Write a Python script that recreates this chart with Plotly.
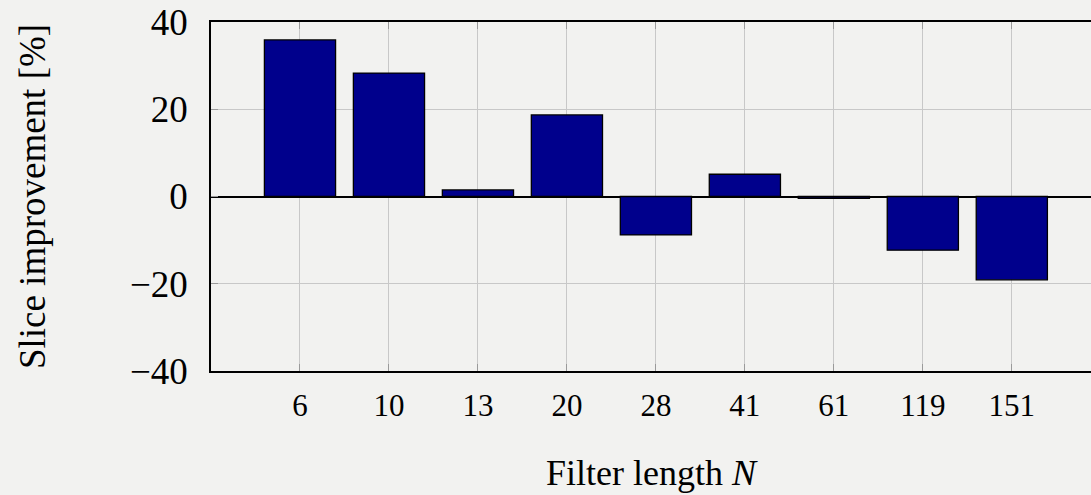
import plotly.graph_objects as go

categories = ["6", "10", "13", "20", "28", "41", "61", "119", "151"]
improvement = [35.9, 28.3, 1.5, 18.7, -8.8, 5.1, -0.4, -12.3, -19.1]
y_ticks = [-40, -20, 0, 20, 40]

bg = "#f2f2f0"
serif = "Liberation Serif, Times New Roman, serif"

fig = go.Figure(
    go.Bar(
        x=list(range(len(categories))),
        y=improvement,
        marker=dict(color="#00008c", line=dict(color="#000000", width=1.3)),
        width=0.8,
    )
)

fig.update_layout(
    width=1091,
    height=495,
    margin=dict(l=211, r=0, t=22, b=124),
    paper_bgcolor=bg,
    plot_bgcolor=bg,
    showlegend=False,
    font=dict(family=serif, color="#000000"),
)

fig.update_xaxes(
    range=[-1, 8.89],
    tickmode="array",
    tickvals=list(range(len(categories))),
    ticktext=categories,
    tickfont=dict(size=31, family=serif),
    showgrid=True,
    gridcolor="#c8c8c8",
    gridwidth=1.2,
    showline=True,
    linecolor="#000000",
    linewidth=1.6,
    mirror="ticks",
    ticks="inside",
    ticklen=7,
    tickcolor="#9a9a9a",
    tickwidth=1.2,
    ticklabelstandoff=6,
    zeroline=False,
    title=dict(text="Filter length <i>N</i>", font=dict(size=36, family=serif), standoff=38),
)

fig.update_yaxes(
    range=[-40, 40],
    tickmode="array",
    tickvals=y_ticks,
    tickfont=dict(size=37, family=serif),
    showgrid=True,
    gridcolor="#c8c8c8",
    gridwidth=1.2,
    showline=True,
    linecolor="#000000",
    linewidth=1.6,
    ticks="inside",
    ticklen=7,
    tickcolor="#9a9a9a",
    tickwidth=1.2,
    ticklabelstandoff=14,
    zeroline=True,
    zerolinecolor="#000000",
    zerolinewidth=1.6,
    title=dict(text="Slice improvement [%]", font=dict(size=37, family=serif), standoff=73),
)

fig.write_html(
    "out.html",
    config={"displayModeBar": False},
    post_script="document.body.style.margin='0px';document.body.style.overflow='hidden';",
)
